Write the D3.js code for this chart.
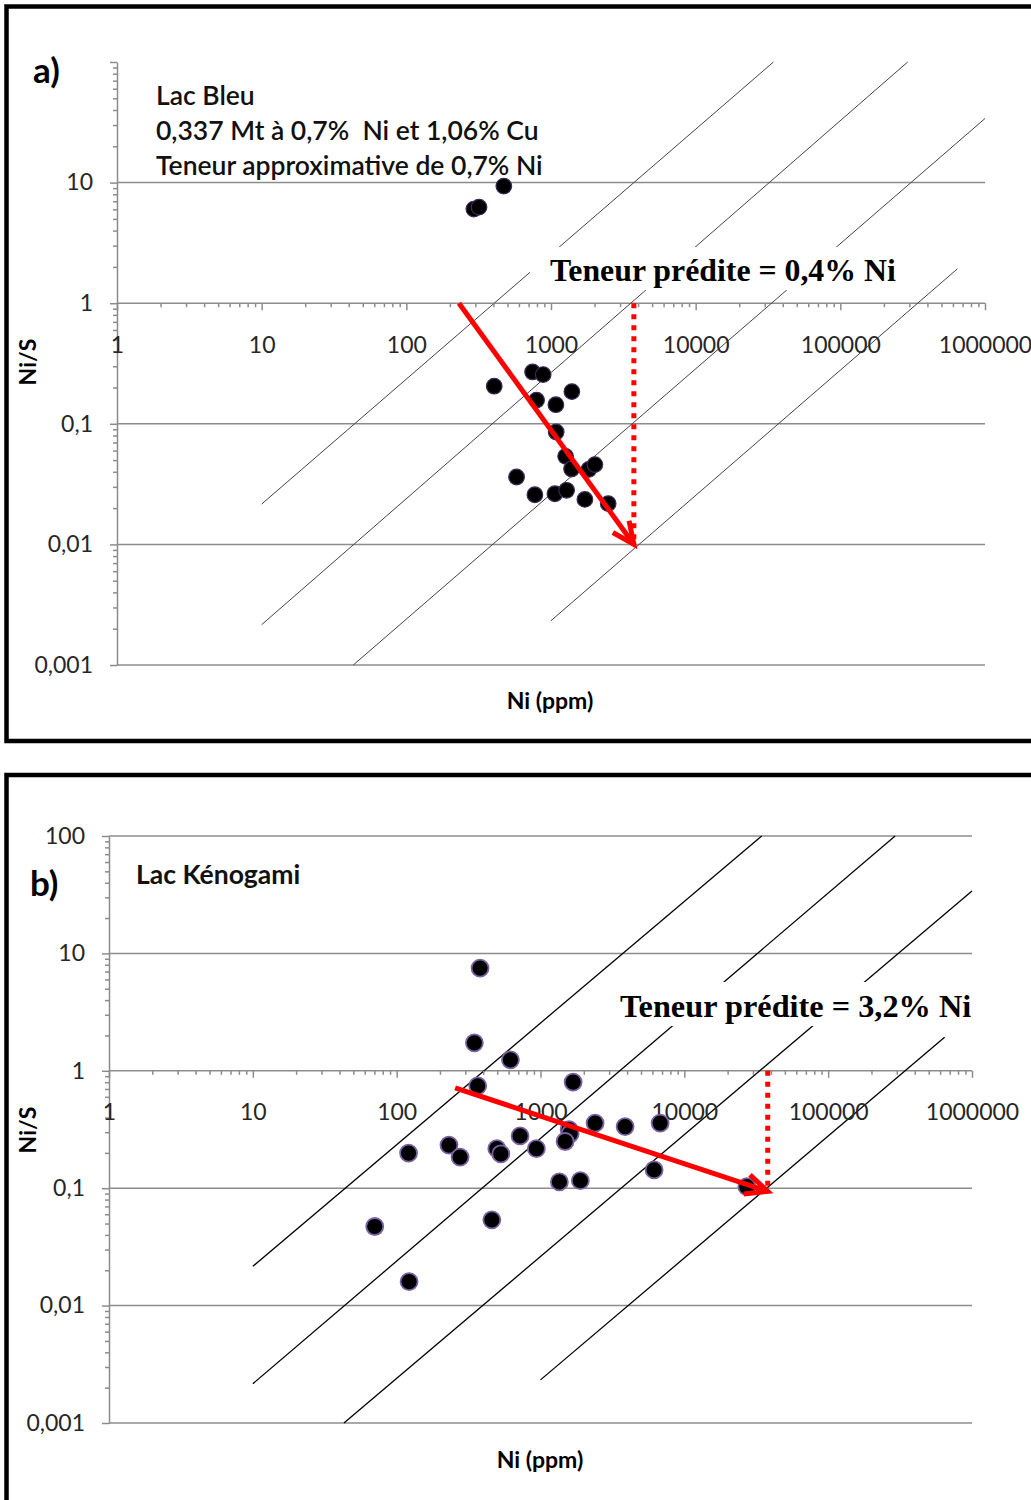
<!DOCTYPE html>
<html>
<head>
<meta charset="utf-8">
<script src="https://cdn.jsdelivr.net/npm/d3@7"></script>
<style>
  body { margin: 0; background: #fff; }
  svg text { font-family: Lato, "Open Sans", sans-serif; }
</style>
</head>
<body>
<svg id="chart" width="1031" height="1500"></svg>
<script>
// ---------------- DATA ----------------
const niTicks = [1, 10, 100, 1000, 10000, 100000, 1000000];
const ratioTicksA = [0.001, 0.01, 0.1, 1, 10];
const ratioTicksB = [0.001, 0.01, 0.1, 1, 10, 100];

// grade isolines (Ni ppm, Ni/S), same for both panels
const gradeLines = [
  [[10, 0.0216], [34500, 100]],
  [[10, 0.00216], [292000, 100]],
  [[43, 0.001], [1000000, 34]],
  [[1000, 0.00233], [645000, 1.93]]
];

// a) Lac Bleu
const bleuNi    = [293, 318, 472, 405, 746, 883, 1394, 795, 1081, 1086, 1262, 1388, 1828, 2011, 578, 774, 1064, 1282, 1715, 2485];
const bleuRatio = [6.03, 6.26, 9.35, 0.205, 0.269, 0.256, 0.185, 0.157, 0.144, 0.0855, 0.0537, 0.0422, 0.0419, 0.0459, 0.0362, 0.0258, 0.0263, 0.0281, 0.0236, 0.0218];
const bleuArrow  = [[231, 1], [3740, 0.01]];
const bleuDotted = [[3740, 1], [3740, 0.01]];
const bleuNotes  = ["Lac Bleu", "0,337 Mt à 0,7%  Ni et 1,06% Cu", "Teneur approximative de 0,7% Ni"];
const bleuGrade  = "Teneur prédite = 0,4% Ni";

// b) Lac Kénogami
const kenoNi    = [380, 347, 618, 366, 1686, 121, 231, 276, 497, 530, 721, 936, 1581, 1607, 1483, 2397, 3874, 6790, 6166, 1353, 1893, 70.4, 459, 122, 27200];
const kenoRatio = [7.5, 1.73, 1.24, 0.745, 0.801, 0.199, 0.233, 0.184, 0.217, 0.196, 0.279, 0.217, 0.315, 0.291, 0.25, 0.359, 0.335, 0.359, 0.143, 0.113, 0.116, 0.0472, 0.0538, 0.016, 0.103];
const kenoArrow  = [[255, 0.716], [38000, 0.094]];
const kenoDotted = [[38000, 1], [38000, 0.094]];
const kenoNotes  = ["Lac Kénogami"];
const kenoGrade  = "Teneur prédite = 3,2% Ni";

// ---------------- HELPERS ----------------
const svg = d3.select('#chart');
const commaFmt = d => String(d).replace('.', ',');

function minors(lo, hi) {
  const out = [];
  for (let p = lo; p < hi; p *= 10)
    for (let k = 2; k <= 9; k++) out.push(+(p * k).toPrecision(3));
  return out;
}

function drawPanel(cfg) {
  const g = svg.append('g');
  const x = d3.scaleLog().domain([1, 1e6]).range(cfg.xRange);
  const y = d3.scaleLog().domain([0.001, 100]).range(cfg.yRange);

  // frame
  g.append('rect')
    .attr('x', 6.5).attr('y', cfg.frameTop)
    .attr('width', 1200).attr('height', cfg.frameBottom - cfg.frameTop)
    .attr('fill', 'none').attr('stroke', '#000').attr('stroke-width', 4.5);

  // horizontal gridlines
  g.append('g').selectAll('line').data(cfg.grid).join('line')
    .attr('x1', x(1)).attr('x2', x(1e6))
    .attr('y1', d => y(d)).attr('y2', d => y(d))
    .attr('stroke', '#8c8c8c').attr('stroke-width', 1.5);

  // grade isolines
  const line = d3.line().x(d => x(d[0])).y(d => y(d[1]));
  g.append('g').selectAll('path').data(gradeLines).join('path')
    .attr('d', line).attr('fill', 'none')
    .attr('stroke', cfg.isoColor).attr('stroke-width', cfg.isoWidth);

  // y axis
  g.append('g').attr('transform', `translate(${x(1)},0)`)
    .call(d3.axisLeft(y).tickValues([0.001, 0.01, 0.1, 1, 10, 100])
      .tickSize(7).tickSizeOuter(0).tickPadding(17)
      .tickFormat(d => cfg.yLabels.includes(d) ? commaFmt(d) : ''));
  g.append('g').attr('transform', `translate(${x(1)},0)`)
    .call(d3.axisLeft(y).tickValues(minors(0.001, 100)).tickSize(4).tickFormat(''))
    .select('.domain').remove();

  // x axis on the Ni/S = 1 line
  const xAxis = g.append('g').attr('transform', `translate(0,${y(1)})`)
    .call(d3.axisBottom(x).tickValues(niTicks).tickSize(7).tickSizeOuter(0)
      .tickPadding(26).tickFormat(d3.format('d')));
  xAxis.select('.domain').remove();
  g.append('g').attr('transform', `translate(0,${y(1)})`)
    .call(d3.axisBottom(x).tickValues(minors(1, 1e6)).tickSize(4).tickFormat(''))
    .select('.domain').remove();

  g.selectAll('.tick line, .domain').attr('stroke', '#8c8c8c').attr('stroke-width', 1.5);
  g.selectAll('.tick text').attr('fill', '#262626').style('font-size', '23px');

  // predicted grade label with its white box
  const gradeG = g.append('g');
  const gradeText = gradeG.append('text')
    .attr('x', cfg.gradePos[0]).attr('y', cfg.gradePos[1])
    .style('font-family', '"Liberation Serif", "Times New Roman", serif')
    .style('font-weight', 'bold').style('font-size', cfg.gradeSize + 'px')
    .text(cfg.gradeLabel);
  const bb = gradeText.node().getBBox();
  gradeG.insert('rect', 'text')
    .attr('x', bb.x - 20).attr('y', bb.y - 6)
    .attr('width', bb.width + 32).attr('height', bb.height + 8)
    .attr('fill', '#fff');

  // samples
  g.append('g').selectAll('circle').data(cfg.ni.map((v, i) => [v, cfg.ratio[i]])).join('circle')
    .attr('cx', d => x(d[0])).attr('cy', d => y(d[1])).attr('r', cfg.dotR)
    .attr('fill', '#000').attr('stroke', cfg.dotStroke).attr('stroke-width', cfg.dotStrokeW);

  // red dotted drop line
  g.append('path').datum(cfg.dotted).attr('d', line)
    .attr('fill', 'none').attr('stroke', '#ff0000')
    .attr('stroke-width', 5).attr('stroke-dasharray', '5,6');

  // red arrow
  const p0 = [x(cfg.arrow[0][0]), y(cfg.arrow[0][1])];
  const p1 = [x(cfg.arrow[1][0]), y(cfg.arrow[1][1])];
  const len = Math.hypot(p1[0] - p0[0], p1[1] - p0[1]);
  const u = [(p1[0] - p0[0]) / len, (p1[1] - p0[1]) / len];
  const n = [-u[1], u[0]];
  const L = 22, W = 10;
  g.append('line')
    .attr('x1', p0[0]).attr('y1', p0[1]).attr('x2', p1[0] - u[0] * 3).attr('y2', p1[1] - u[1] * 3)
    .attr('stroke', '#ff0000').attr('stroke-width', 5);
  g.append('path')
    .attr('d', d3.line()([
      [p1[0] - L * u[0] + W * n[0], p1[1] - L * u[1] + W * n[1]],
      p1,
      [p1[0] - L * u[0] - W * n[0], p1[1] - L * u[1] - W * n[1]]
    ]))
    .attr('fill', 'none').attr('stroke', '#ff0000').attr('stroke-width', 5)
    .attr('stroke-linejoin', 'miter');

  // panel letter
  g.append('text').attr('x', cfg.letterPos[0]).attr('y', cfg.letterPos[1])
    .style('font-weight', 'bold').style('font-size', '35px').text(cfg.letter);

  // notes
  g.append('g').selectAll('text').data(cfg.notes).join('text')
    .attr('x', cfg.notesPos[0]).attr('y', (d, i) => cfg.notesPos[1] + i * 35)
    .attr('xml:space', 'preserve').style('white-space', 'pre')
    .style('font-weight', cfg.notesWeight).style('font-size', cfg.notesSize + 'px')
    .attr('fill', '#111').text(d => d);

  // axis titles
  g.append('text')
    .attr('transform', `translate(${cfg.yTitlePos[0]},${cfg.yTitlePos[1]}) rotate(-90)`)
    .attr('text-anchor', 'middle').attr('dy', '0.35em')
    .style('font-weight', 'bold').style('font-size', '23px').text('Ni/S');
  g.append('text')
    .attr('x', cfg.xTitlePos[0]).attr('y', cfg.xTitlePos[1])
    .attr('text-anchor', 'middle')
    .style('font-weight', 'bold').style('font-size', '23px').text('Ni (ppm)');
}

drawPanel({
  xRange: [117, 985], yRange: [665, 62],
  frameTop: 6.5, frameBottom: 741,
  grid: ratioTicksA, yLabels: ratioTicksA,
  isoColor: '#444', isoWidth: 1,
  ni: bleuNi, ratio: bleuRatio, dotR: 7.8, dotStroke: '#3d2b56', dotStrokeW: 1.2,
  arrow: bleuArrow, dotted: bleuDotted,
  gradeLabel: bleuGrade, gradePos: [550, 281], gradeSize: 31.8,
  letter: 'a)', letterPos: [33, 83],
  notes: bleuNotes, notesPos: [156, 105], notesSize: 26.5, notesWeight: 600,
  yTitlePos: [28, 362], xTitlePos: [550, 709]
});

drawPanel({
  xRange: [109, 972], yRange: [1423, 836],
  frameTop: 775, frameBottom: 1600,
  grid: ratioTicksB, yLabels: ratioTicksB,
  isoColor: '#000', isoWidth: 1.3,
  ni: kenoNi, ratio: kenoRatio, dotR: 8.5, dotStroke: '#7a62a3', dotStrokeW: 1.8,
  arrow: kenoArrow, dotted: kenoDotted,
  gradeLabel: kenoGrade, gradePos: [620, 1017], gradeSize: 32.3,
  letter: 'b)', letterPos: [30, 896],
  notes: kenoNotes, notesPos: [136, 884], notesSize: 26.5, notesWeight: 'bold',
  yTitlePos: [28, 1130], xTitlePos: [540, 1468]
});
</script>
</body>
</html>
